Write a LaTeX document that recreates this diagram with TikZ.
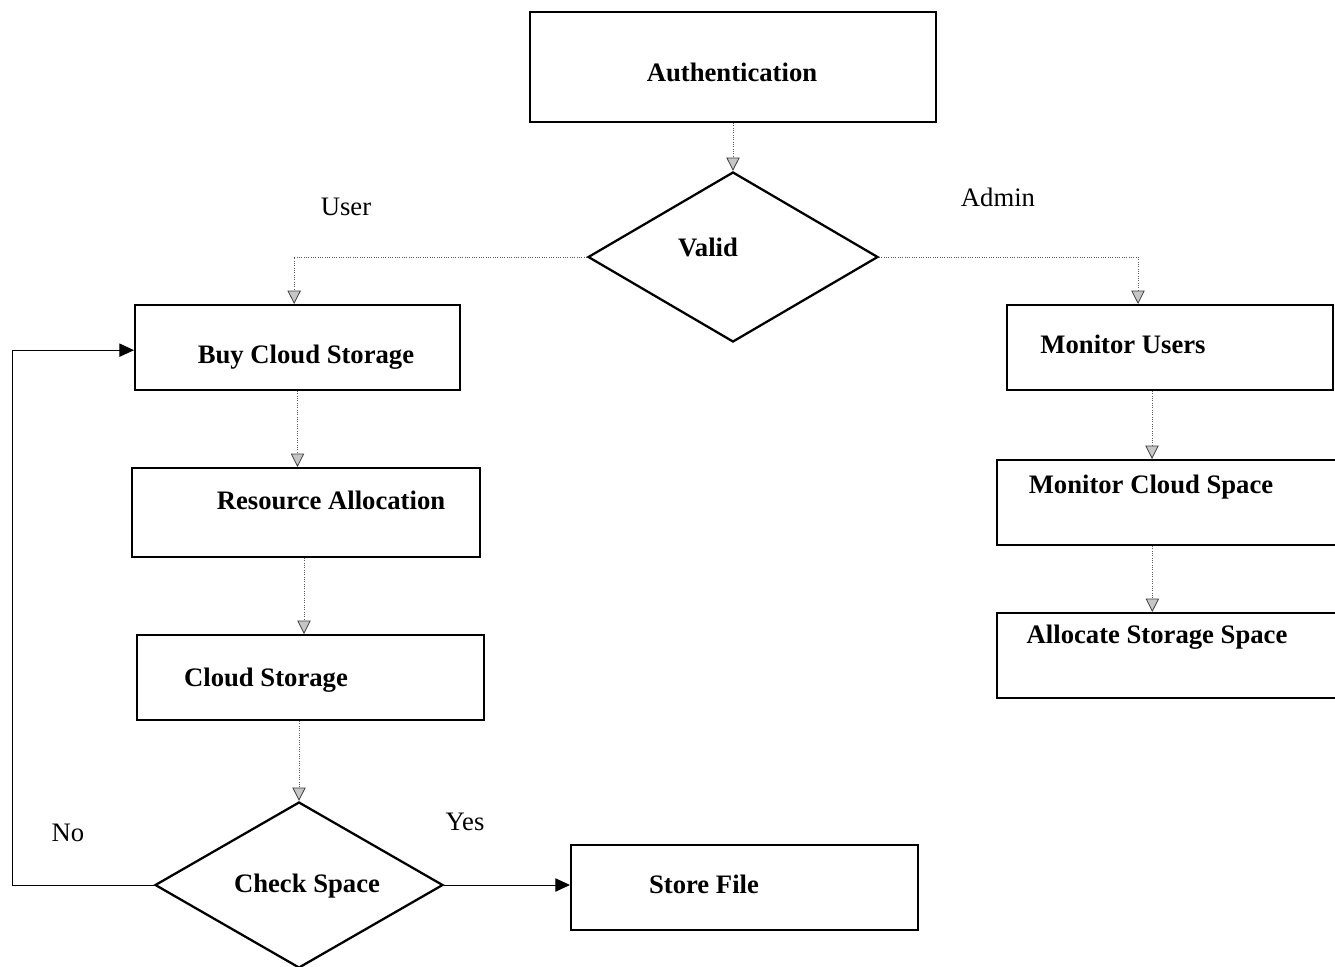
\documentclass[tikz,border=0pt]{standalone}
\usepackage{fontspec}
\setmainfont{Liberation Serif}
\usetikzlibrary{arrows.meta,shapes.geometric}

\tikzset{
  box/.style={draw,line width=1.5pt,rectangle,inner sep=0pt},
  dmd/.style={draw,line width=1.7pt,diamond,inner sep=0pt},
  txt/.style={font=\fontsize{20}{24}\selectfont\bfseries,inner sep=0pt},
  lbl/.style={font=\fontsize{20}{24}\selectfont,inner sep=0pt},
  dotarr/.style={draw=gray!70!black,line width=0.75pt,densely dotted,
    -{Triangle[width=10pt,length=10pt,color=gray!50!black,fill=gray!45,line width=0.6pt]}},
  solarr/.style={line width=0.75pt,-{Triangle[width=10pt,length=11pt]}}
}

\begin{document}
\begin{tikzpicture}[x=0.75pt,y=0.75pt,yscale=-1]
  \useasboundingbox (0,0) rectangle (1335,967);
  \clip (0,0) rectangle (1335,967);

  %Shape: Rectangle [auth]
  \node [box,minimum width=304.5pt,minimum height=82.5pt] (auth) at (733,67) {};
  \node [txt] (authtxt) at (732,72) {Authentication};
  %Shape: Diamond [valid]
  \node [dmd,minimum width=217.5pt,minimum height=127.5pt] (valid) at (733,257) {};
  \node [txt] (validtxt) at (708,247) {Valid};

  %Shape: Rectangle [buy]
  \node [box,minimum width=243.75pt,minimum height=63.75pt] (buy) at (297.5,347.5) {};
  \node [txt] (buytxt) at (306,357) {Buy Cloud Storage};
  %Shape: Rectangle [res]
  \node [box,minimum width=261pt,minimum height=66.75pt] (res) at (306,512.5) {};
  \node [txt] (restxt) at (331,500) {Resource Allocation};
  %Shape: Rectangle [cs]
  \node [box,minimum width=260.25pt,minimum height=63.75pt] (cs) at (310.5,677.5) {};
  \node [txt] (cstxt) at (266,680) {Cloud Storage};
  %Shape: Diamond [check]
  \node [dmd,minimum width=216pt,minimum height=124.5pt] (check) at (299,885) {};
  \node [txt] (checktxt) at (307,886) {Check Space};
  %Shape: Rectangle [store]
  \node [box,minimum width=260.25pt,minimum height=63.75pt] (store) at (744.5,887.5) {};
  \node [txt] (storetxt) at (704,884) {Store File};

  %Shape: Rectangle [mu]
  \node [box,minimum width=244.5pt,minimum height=63.75pt] (mu) at (1170,347.5) {};
  \node [txt] (mutxt) at (1123,344) {Monitor Users};
  %Shape: Rectangle [mcs]
  \node [box,minimum width=261pt,minimum height=63.75pt] (mcs) at (1171,502.5) {};
  \node [txt] (mcstxt) at (1151,487) {Monitor Cloud Space};
  %Shape: Rectangle [alloc]
  \node [box,minimum width=261pt,minimum height=63.75pt] (alloc) at (1171,655.5) {};
  \node [txt] (alloctxt) at (1157,637) {Allocate Storage Space};

  %Labels
  \node [lbl] (user) at (346,207) {User};
  \node [lbl] (admin) at (998,197) {Admin};
  \node [lbl] (yes) at (465,822) {Yes};
  \node [lbl] (no) at (68,833) {No};

  %Dotted arrows
  \draw [dotarr] (auth.south) -- (valid.north);
  \draw [dotarr] (valid.west) -| ([xshift=-2.5pt]buy.north);
  \draw [dotarr] (valid.east) -| ([xshift=-24pt]mu.north);
  \draw [dotarr] (buy.south) -- (buy.south |- res.north);
  \draw [dotarr] ([xshift=-1.5pt]res.south) -- ([xshift=-1.5pt]res.south |- cs.north);
  \draw [dotarr] (check.north |- cs.south) -- (check.north);
  \draw [dotarr] ([xshift=-13.5pt]mu.south) -- ([xshift=-13.5pt]mu.south |- mcs.north);
  \draw [dotarr] ([xshift=-14pt]mcs.south) -- ([xshift=-14pt]mcs.south |- alloc.north);

  %Solid arrows
  \draw [solarr] (check.east) -- (check.east -| store.west);
  \coordinate (loop) at (12,885);
  \draw [solarr] (check.west) -- (loop) |- ([yshift=2pt]buy.west);

\end{tikzpicture}
\end{document}
